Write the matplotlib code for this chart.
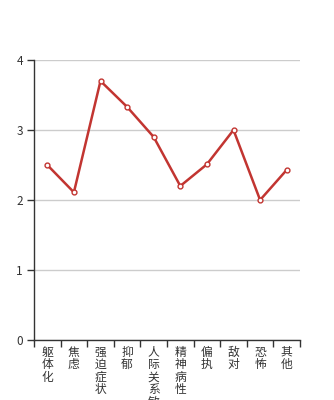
import matplotlib
matplotlib.use("Agg")
import matplotlib.pyplot as plt

plt.rcParams['font.family'] = ['Noto Sans CJK SC', 'DejaVu Sans']

categories = ["躯体化", "焦虑", "强迫症状", "抑郁", "人际关系敏感", "精神病性", "偏执", "敌对", "恐怖", "其他"]
values = [2.5, 2.11, 3.7, 3.33, 2.9, 2.2, 2.51, 3.0, 2.0, 2.43]

fig = plt.figure(figsize=(3.34, 4.0), dpi=100)
ax = fig.add_axes([34 / 334, 60 / 400, 266 / 334, 280 / 400])

x = list(range(len(categories)))
ax.plot(x, values, color='#c23531', lw=1.8, marker='o', ms=3.5,
        mfc='white', mec='#c23531', mew=1, zorder=3, clip_on=False)

ax.set_xlim(-0.5, len(categories) - 0.5)
ax.set_ylim(0, 4)
ax.set_yticks([0, 1, 2, 3, 4])
ax.yaxis.grid(True, color='#cccccc', lw=1)
ax.set_axisbelow(True)

# category ticks at boundaries, labels at centres (vertical text)
ax.set_xticks([i - 0.5 for i in range(len(categories) + 1)])
ax.set_xticklabels([])
ax.set_xticks(x, minor=True)
ax.set_xticklabels(['\n'.join(c) for c in categories], minor=True,
                   fontsize=8.5, color='#333333', linespacing=0.95, va='top')
ax.tick_params(axis='x', which='minor', length=0, pad=4)
ax.tick_params(axis='x', which='major', length=5, width=1, color='#333333')
ax.tick_params(axis='y', length=5, width=1, color='#333333', labelsize=8.5,
               labelcolor='#333333', pad=3)

for s in ['top', 'right']:
    ax.spines[s].set_visible(False)
for s in ['left', 'bottom']:
    ax.spines[s].set_color('#333333')
    ax.spines[s].set_linewidth(1)

fig.savefig('out.png', dpi=100)
